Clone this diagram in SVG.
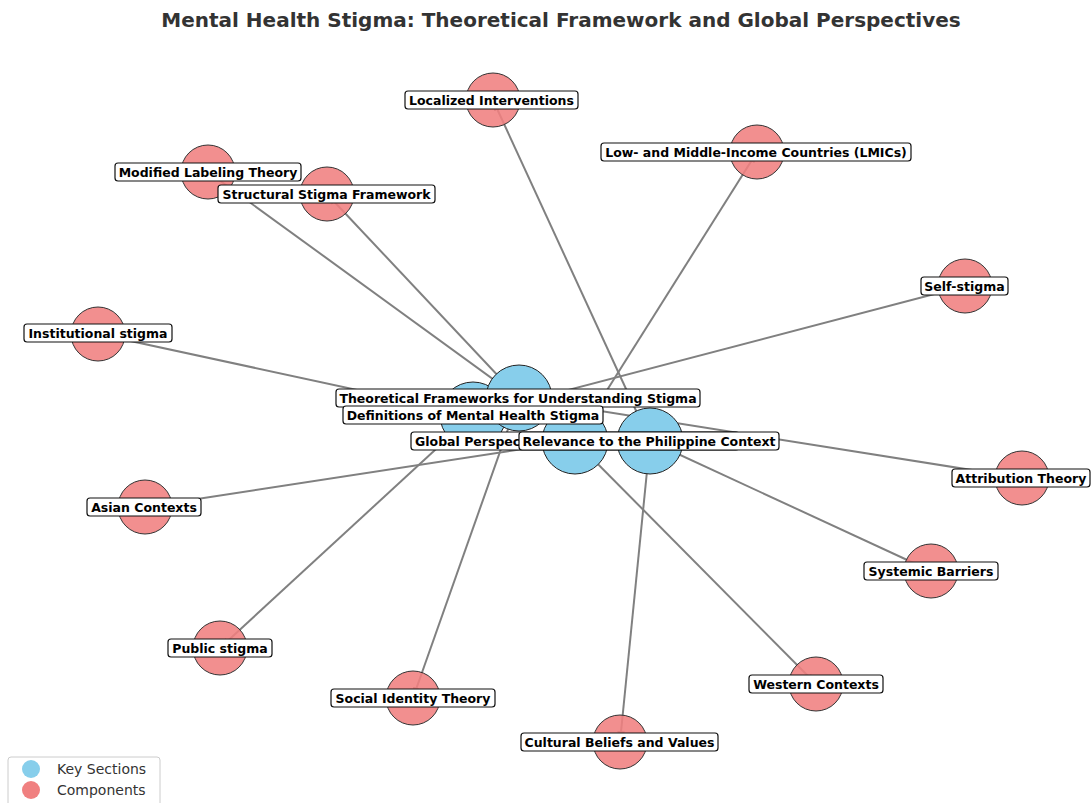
<svg xmlns="http://www.w3.org/2000/svg" width="1091" height="803" viewBox="0 0 1091 803">
<defs>
<marker id="arr" viewBox="0 0 10 10" refX="10" refY="5" markerWidth="11" markerHeight="11" markerUnits="userSpaceOnUse" orient="auto">
<path d="M0,1.5 L10,5 L0,8.5 Z" fill="#808080"/>
</marker>
</defs>
<style>
.edge{stroke:#808080;stroke-width:2;fill:none;marker-end:url(#arr)}
.key{fill:#87CEEB;stroke:#222;stroke-width:1}
.comp{fill:#F08080;fill-opacity:0.88;stroke:#333;stroke-width:1}
.lbox{fill:#fff;stroke:#111;stroke-width:1.2}
.lt{font-family:"DejaVu Sans",sans-serif;font-weight:bold;font-size:12.5px;fill:#000;text-anchor:middle;dominant-baseline:central}
.title{font-family:"DejaVu Sans",sans-serif;font-weight:bold;font-size:20px;fill:#333;text-anchor:middle}
.leg{font-family:"DejaVu Sans",sans-serif;font-size:14px;fill:#333}
</style>
<rect width="1091" height="803" fill="#fff"/>
<text class="title" x="561" y="27">Mental Health Stigma: Theoretical Framework and Global Perspectives</text>

<g id="connectors">
<line class="edge" x1="519" y1="398" x2="208" y2="172"/>
<line class="edge" x1="519" y1="398" x2="327" y2="194"/>
<line class="edge" x1="519" y1="398" x2="413" y2="698"/>
<line class="edge" x1="519" y1="398" x2="1022" y2="478"/>
<line class="edge" x1="473" y1="415" x2="220" y2="648"/>
<line class="edge" x1="473" y1="415" x2="965" y2="286"/>
<line class="edge" x1="473" y1="415" x2="98" y2="334"/>
<line class="edge" x1="575" y1="441" x2="145" y2="507"/>
<line class="edge" x1="575" y1="441" x2="757" y2="152"/>
<line class="edge" x1="575" y1="441" x2="816" y2="684"/>
<line class="edge" x1="650" y1="441" x2="493" y2="100"/>
<line class="edge" x1="650" y1="441" x2="620" y2="742"/>
<line class="edge" x1="650" y1="441" x2="931" y2="571"/>
</g>

<g id="n-localized"><circle class="comp" cx="493" cy="100" r="27"/></g>
<g id="n-lmics"><circle class="comp" cx="757" cy="152" r="27"/></g>
<g id="n-modified"><circle class="comp" cx="208" cy="172" r="27"/></g>
<g id="n-structural"><circle class="comp" cx="327" cy="194" r="27"/></g>
<g id="n-self"><circle class="comp" cx="965" cy="286" r="27"/></g>
<g id="n-institutional"><circle class="comp" cx="98" cy="334" r="27"/></g>
<g id="n-attribution"><circle class="comp" cx="1022" cy="478" r="27"/></g>
<g id="n-asian"><circle class="comp" cx="145" cy="507" r="27"/></g>
<g id="n-systemic"><circle class="comp" cx="931" cy="571" r="27"/></g>
<g id="n-public"><circle class="comp" cx="220" cy="648" r="27"/></g>
<g id="n-social"><circle class="comp" cx="413" cy="698" r="27"/></g>
<g id="n-western"><circle class="comp" cx="816" cy="684" r="27"/></g>
<g id="n-cultural"><circle class="comp" cx="620" cy="742" r="27"/></g>

<g id="n-definitions"><circle class="key" cx="473" cy="415" r="33"/></g>
<g id="n-theoretical"><circle class="key" cx="519" cy="398" r="33"/></g>
<g id="n-global"><circle class="key" cx="575" cy="441" r="33"/></g>
<g id="n-relevance"><circle class="key" cx="650" cy="441" r="33"/></g>

<g id="labels">
<rect class="lbox" x="405" y="91" width="173" height="18" rx="3"/><text class="lt" x="491.5" y="100">Localized Interventions</text>
<rect class="lbox" x="601" y="143" width="310" height="18" rx="3"/><text class="lt" x="756" y="152">Low- and Middle-Income Countries (LMICs)</text>
<rect class="lbox" x="115" y="163" width="186" height="18" rx="3"/><text class="lt" x="208" y="172">Modified Labeling Theory</text>
<rect class="lbox" x="218" y="185" width="217" height="18" rx="3"/><text class="lt" x="326.5" y="194">Structural Stigma Framework</text>
<rect class="lbox" x="921" y="277" width="87" height="18" rx="3"/><text class="lt" x="964.5" y="286">Self-stigma</text>
<rect class="lbox" x="24" y="324" width="148" height="18" rx="3"/><text class="lt" x="98" y="333">Institutional stigma</text>
<rect class="lbox" x="952" y="469" width="138" height="18" rx="3"/><text class="lt" x="1021" y="478">Attribution Theory</text>
<rect class="lbox" x="87" y="498" width="114" height="18" rx="3"/><text class="lt" x="144" y="507">Asian Contexts</text>
<rect class="lbox" x="864" y="562" width="134" height="18" rx="3"/><text class="lt" x="931" y="571">Systemic Barriers</text>
<rect class="lbox" x="168" y="639" width="104" height="18" rx="3"/><text class="lt" x="220" y="648">Public stigma</text>
<rect class="lbox" x="331" y="689" width="164" height="18" rx="3"/><text class="lt" x="413" y="698">Social Identity Theory</text>
<rect class="lbox" x="749" y="675" width="134" height="18" rx="3"/><text class="lt" x="816" y="684">Western Contexts</text>
<rect class="lbox" x="521" y="733" width="197" height="18" rx="3"/><text class="lt" x="619.5" y="742">Cultural Beliefs and Values</text>
<rect class="lbox" x="336" y="389" width="364" height="18" rx="3"/><text class="lt" x="518" y="398">Theoretical Frameworks for Understanding Stigma</text>
<rect class="lbox" x="343" y="406" width="260" height="18" rx="3"/><text class="lt" x="473" y="415">Definitions of Mental Health Stigma</text>
<rect class="lbox" x="411" y="432" width="328" height="18" rx="3"/><text class="lt" x="415" y="441" style="text-anchor:start">Global Perspectives</text>
<rect class="lbox" x="519" y="432" width="260" height="18" rx="3"/><text class="lt" x="649" y="441">Relevance to the Philippine Context</text>
</g>

<g id="legend">
<rect x="8" y="757" width="152" height="52" rx="3" fill="#fff" stroke="#ccc" stroke-width="1"/>
<circle cx="31" cy="769" r="9" fill="#87CEEB"/>
<circle cx="31" cy="790" r="9" fill="#F08080"/>
<text class="leg" x="57" y="774">Key Sections</text>
<text class="leg" x="57" y="795">Components</text>
</g>
</svg>
